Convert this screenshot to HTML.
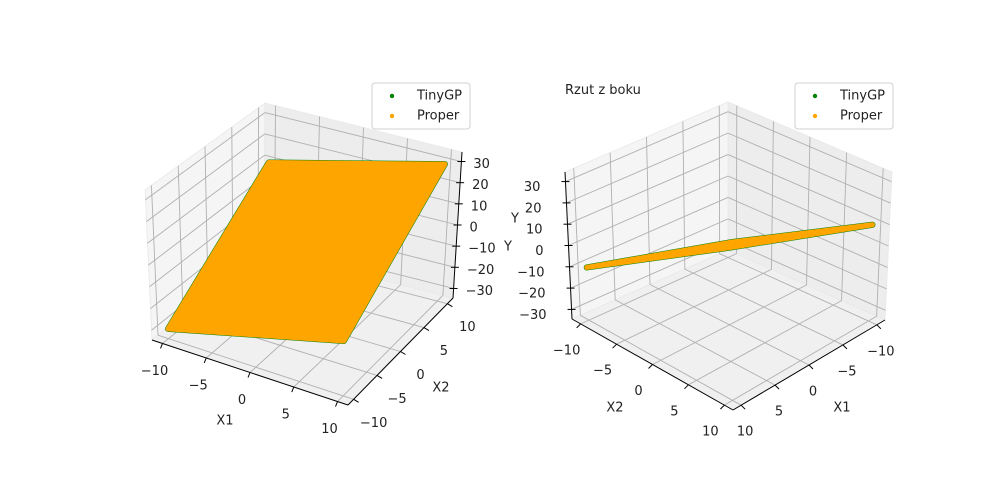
<!DOCTYPE html>
<html><head><meta charset="utf-8"><style>
html,body{margin:0;padding:0;background:#fff;}
svg{display:block;font-family:"DejaVu Sans","Liberation Sans",sans-serif;}
</style></head><body>
<svg id="fig" width="1000" height="500" viewBox="0 0 1000 500">
<rect width="1000" height="500" fill="#fff"/>
<text x="565" y="94" font-size="13" fill="#222">Rzut z boku</text>
</svg>
<script>
// ---- data (plane corners) ----
const properX1 = [-10, 10, 10, -10];
const properX2 = [-10, -10, 10, 10];
const properY  = [-30, -10, 30, 10];
const xTicks = [-10, -5, 0, 5, 10];
const yTicks = [-30, -20, -10, 0, 10, 20, 30];
const xTickLabels = ["\u221210", "\u22125", "0", "5", "10"];
const yTickLabels = ["\u221230", "\u221220", "\u221210", "0", "10", "20", "30"];
const legendLabels = ["TinyGP", "Proper"];
const legendColors = ["green", "orange"];

const XR = [-11.2, 11.2], ZR = [-34.5, 34.5];
const NS = "http://www.w3.org/2000/svg";
const svg = document.getElementById('fig');
function mk(tag, attrs, parent) {
  const e = document.createElementNS(NS, tag);
  for (const k in attrs) e.setAttribute(k, attrs[k]);
  (parent || svg).appendChild(e);
  return e;
}

function makePlot(cfg) {
  const g = mk('g', {});
  
  
  const C = cfg.C;
  function P(x1, x2, z) {
    const u = (x1 - XR[0]) / (XR[1] - XR[0]);
    const v = (x2 - XR[0]) / (XR[1] - XR[0]);
    const w = (z - ZR[0]) / (ZR[1] - ZR[0]);
    let X = 0, Y = 0;
    for (let i = 0; i < 2; i++) for (let j = 0; j < 2; j++) for (let k = 0; k < 2; k++) {
      const wt = (i ? u : 1 - u) * (j ? v : 1 - v) * (k ? w : 1 - w);
      X += wt * C[i][j][k][0]; Y += wt * C[i][j][k][1];
    }
    return [X, Y];
  }
  const pts = a => a.map(p => p.join(',')).join(' ');
  const mn = XR[0], mx = XR[1], zm = ZR[0], zM = ZR[1];
  const x1p = cfg.x1pane, x2p = cfg.x2pane;
  const pA = mk('polygon', {points: pts([P(x1p, mn, zm), P(x1p, mx, zm), P(x1p, mx, zM), P(x1p, mn, zM)]), fill: cfg.x1paneFill, stroke: '#e8e8e8', 'stroke-width': 0.8}, g);
  
  
  const pB = mk('polygon', {points: pts([P(mn, x2p, zm), P(mx, x2p, zm), P(mx, x2p, zM), P(mn, x2p, zM)]), fill: cfg.x2paneFill, stroke: '#e8e8e8', 'stroke-width': 0.8}, g);
  
  
  const pC = mk('polygon', {points: pts([P(mn, mn, zm), P(mx, mn, zm), P(mx, mx, zm), P(mn, mx, zm)]), fill: '#f0f0f0', stroke: '#e8e8e8', 'stroke-width': 0.8}, g);
  
  
  const gl = (a, b) => {
    const l = mk('line', {x1: a[0], y1: a[1], x2: b[0], y2: b[1], stroke: '#b0b0b0', 'stroke-width': 0.9}, g);
    
    
  };
  xTicks.forEach(t => {
    gl(P(t, mn, zm), P(t, mx, zm)); gl(P(mn, t, zm), P(mx, t, zm));
    gl(P(t, x2p, zm), P(t, x2p, zM)); gl(P(x1p, t, zm), P(x1p, t, zM));
  });
  yTicks.forEach(t => { gl(P(x1p, mn, t), P(x1p, mx, t)); gl(P(mn, x2p, t), P(mx, x2p, t)); });
  const axLine = (a, b, nm) => {
    const l = mk('line', {x1: a[0], y1: a[1], x2: b[0], y2: b[1], stroke: '#000', 'stroke-width': 1}, g);
    
    
  };
  const lab = (p, txt, anchor, nm, fs) => {
    const t = mk('text', {x: p[0], y: p[1], 'font-size': fs || 13, 'text-anchor': anchor, 'dominant-baseline': 'middle', fill: '#222'}, g);
    t.textContent = txt;
    
    
  };
  const a1 = cfg.x1axis;
  axLine(P(mn, a1, zm), P(mx, a1, zm), 'x1-axis-line');
  xTicks.forEach((t, i) => {
    const p = P(t, a1, zm);
    axLine(p, [p[0] + cfg.x1tick[0], p[1] + cfg.x1tick[1]], 'x1-tick');
    lab([p[0] + cfg.x1off[0], p[1] + cfg.x1off[1]], xTickLabels[i], 'middle', 'x1-tick-label');
  });
  lab(cfg.x1title, 'X1', 'middle', 'x1-axis-title');
  const a2 = cfg.x2axis;
  axLine(P(a2, mn, zm), P(a2, mx, zm), 'x2-axis-line');
  xTicks.forEach((t, i) => {
    const p = P(a2, t, zm);
    axLine(p, [p[0] + cfg.x2tick[0], p[1] + cfg.x2tick[1]], 'x2-tick');
    lab([p[0] + cfg.x2off[0], p[1] + cfg.x2off[1]], xTickLabels[i], 'middle', 'x2-tick-label');
  });
  lab(cfg.x2title, 'X2', 'middle', 'x2-axis-title');
  const zc = cfg.zaxis;
  axLine(P(zc[0], zc[1], zm), P(zc[0], zc[1], zM), 'y-axis-line');
  yTicks.forEach((t, i) => {
    const p = P(zc[0], zc[1], t);
    axLine([p[0] - cfg.ztick[0], p[1] - cfg.ztick[1]], [p[0] + cfg.ztick[0], p[1] + cfg.ztick[1]], 'y-tick');
    lab([p[0] + cfg.zoff[0], p[1] + cfg.zoff[1]], yTickLabels[i], cfg.zanchor, 'y-tick-label');
  });
  lab(cfg.ztitle, 'Y', 'middle', 'y-axis-title');
  const poly = properX1.map((x, i) => P(x, properX2[i], properY[i]));
  const s1 = mk('polygon', {points: pts(poly), fill: 'green', stroke: 'green', 'stroke-width': cfg.sw + 1, 'stroke-linejoin': 'round'}, g);
  
  
  const s2 = mk('polygon', {points: pts(poly), fill: 'orange', stroke: 'orange', 'stroke-width': cfg.sw, 'stroke-linejoin': 'round'}, g);
  
  
  const L = cfg.legend;
  const lg = mk('g', {}, g);
  
  
  mk('rect', {x: L[0], y: L[1], width: 98, height: 46, rx: 3, fill: 'rgba(255,255,255,0.8)', stroke: '#d0d0d0', 'stroke-width': 1}, lg);
  legendLabels.forEach((s, i) => {
    const e = mk('g', {}, lg);
    
    
    mk('circle', {cx: L[0] + 20, cy: L[1] + 13 + i * 20, r: 2.2, fill: legendColors[i]}, e);
    const t = mk('text', {x: L[0] + 45, y: L[1] + 13 + i * 20, 'font-size': 13, 'dominant-baseline': 'middle', fill: '#222'}, e);
    t.textContent = s;
  });
}

makePlot({
  name: 'left-plot',
  C: [[[[152,340],[145,190]], [[264,250],[265,103]]],
      [[[348,405],[350,250]], [[453,298],[462,152]]]],
  x1pane: XR[0], x2pane: XR[1],
  x1paneFill: '#f5f5f5', x2paneFill: '#ededed',
  x1axis: XR[0], x1tick: [-2, 5], x1off: [-8, 28], x1title: [225, 421],
  x2axis: XR[1], x2tick: [5, 3], x2off: [20, 24], x2title: [441, 388],
  zaxis: [XR[1], XR[1]], ztick: [4, 0], zoff: [12, 3], zanchor: 'start', ztitle: [508, 247],
  legend: [372, 83], sw: 5
});
makePlot({
  name: 'right-plot',
  C: [[[[728,250],[728,102]], [[885,320],[892,172]]],
      [[[572,319],[565,172]], [[733,410],[733,238]]]],
  x1pane: XR[0], x2pane: XR[0],
  x1paneFill: '#ededed', x2paneFill: '#f5f5f5',
  x1axis: XR[1], x1tick: [4, 4], x1off: [4, 27], x1title: [842, 408],
  x2axis: XR[1], x2tick: [-4, 4], x2off: [-14, 27], x2title: [615, 408],
  zaxis: [XR[1], XR[0]], ztick: [4, 0], zoff: [-25, 6], zanchor: 'end', ztitle: [515, 219],
  legend: [795, 83], sw: 5
});
</script>
</body></html>
